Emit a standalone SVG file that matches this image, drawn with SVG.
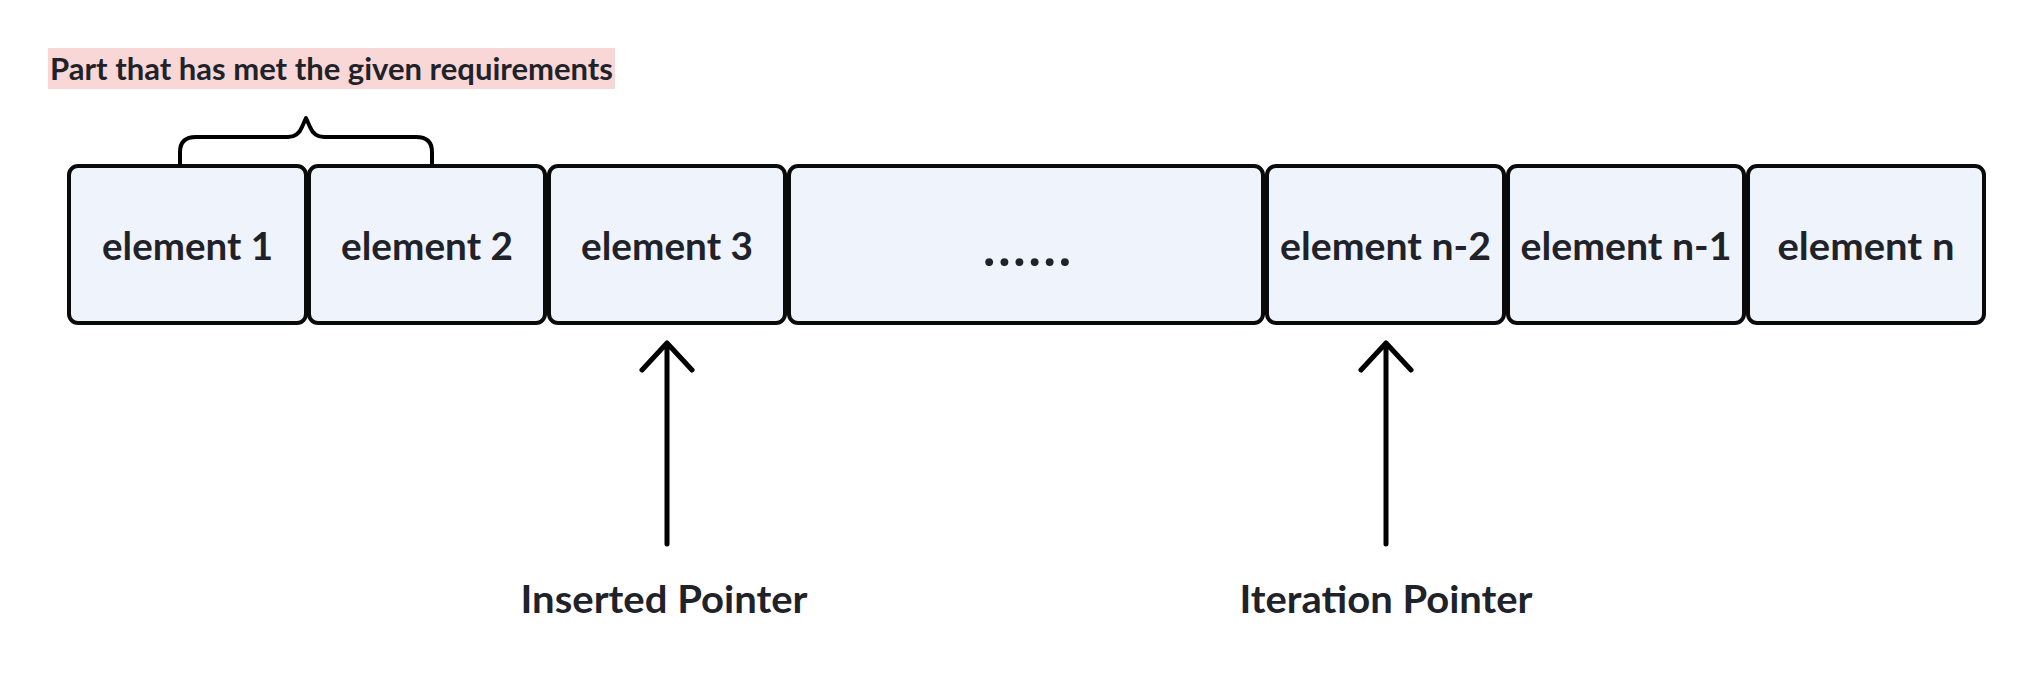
<svg xmlns="http://www.w3.org/2000/svg" width="2036" height="674" viewBox="0 0 2036 674">
<style>
.box{fill:#eff3fc;stroke:#0a0a0a;stroke-width:4}
.t{font-family:Lato,"Noto Sans",sans-serif;font-weight:700;fill:#1f2329;text-anchor:middle}
.el{font-size:39px}
.ptr{font-size:38px}
.conn{fill:none;stroke:#000;stroke-width:5;stroke-linecap:round;stroke-linejoin:round}
.brace{fill:none;stroke:#000;stroke-width:4;stroke-linejoin:round}
</style>
<rect width="2036" height="674" fill="#ffffff"/>
<g id="label-met">
<rect x="48" y="48" width="567" height="41" fill="#f9d7d6"/>
<text class="t" x="50" y="80" font-size="29.5" style="text-anchor:start" textLength="563" lengthAdjust="spacingAndGlyphs">Part that has met the given requirements</text>
</g>
<g id="brace">
<path class="brace" d="M180,165 V152 Q180,137 196,137 H288 Q298,137 302,127 L306,118 L310,127 Q314,137 324,137 H416 Q432,137 432,152 V165"/>
</g>
<g id="element-1"><rect class="box" x="69" y="166" width="237" height="157" rx="9"/><text class="t el" x="187.5" y="260" textLength="171" lengthAdjust="spacingAndGlyphs">element 1</text></g>
<g id="element-2"><rect class="box" x="309" y="166" width="236" height="157" rx="9"/><text class="t el" x="427" y="260" textLength="172" lengthAdjust="spacingAndGlyphs">element 2</text></g>
<g id="element-3"><rect class="box" x="549" y="166" width="236" height="157" rx="9"/><text class="t el" x="667" y="260" textLength="172" lengthAdjust="spacingAndGlyphs">element 3</text></g>
<g id="element-dots"><rect class="box" x="789" y="166" width="474" height="157" rx="9"/><text class="t" font-size="52" x="1027" y="266" textLength="88">......</text></g>
<g id="element-n-2"><rect class="box" x="1267" y="166" width="237" height="157" rx="9"/><text class="t el" x="1385.5" y="260" textLength="211" lengthAdjust="spacingAndGlyphs">element n-2</text></g>
<g id="element-n-1"><rect class="box" x="1508" y="166" width="236" height="157" rx="9"/><text class="t el" x="1626" y="260" textLength="211" lengthAdjust="spacingAndGlyphs">element n-1</text></g>
<g id="element-n"><rect class="box" x="1748" y="166" width="236" height="157" rx="9"/><text class="t el" x="1866" y="260" textLength="177" lengthAdjust="spacingAndGlyphs">element n</text></g>
<g id="connectors">
<path class="conn" d="M667,544 V343 M642,370 L667,343 L692,370"/>
<path class="conn" d="M1386,544 V343 M1361,370 L1386,343 L1411,370"/>
</g>
<g id="inserted-pointer"><text class="t ptr" x="664" y="613" textLength="287" lengthAdjust="spacingAndGlyphs">Inserted Pointer</text></g>
<g id="iteration-pointer"><text class="t ptr" x="1386" y="613" textLength="293" lengthAdjust="spacingAndGlyphs">Iteration Pointer</text></g>
</svg>
